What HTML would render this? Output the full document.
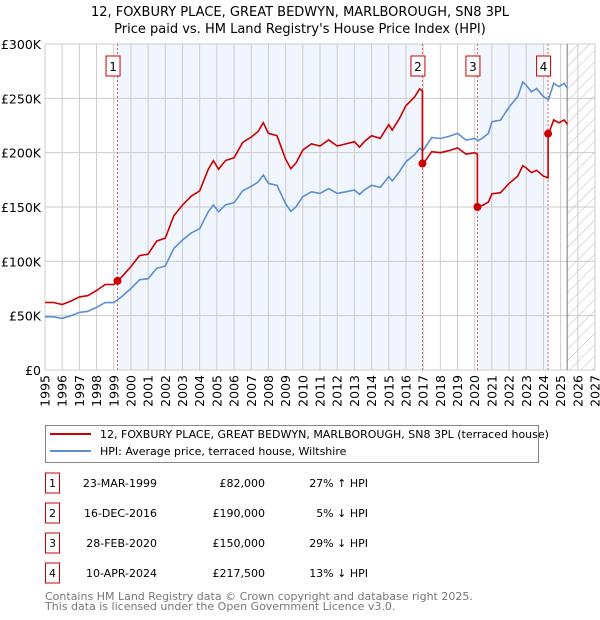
<!DOCTYPE html>
<html><head><meta charset="utf-8"><style>
body{margin:0;background:#fff;font-family:"Liberation Sans","DejaVu Sans",sans-serif;}
#wrap{position:relative;width:600px;height:620px;overflow:hidden}
svg text{font-family:"DejaVu Sans","Liberation Sans",sans-serif}
</style></head><body><div id="wrap">
<svg id="chart" width="600" height="620"></svg>
</div>
<script>
const hpiYears=[1995,1995.5,1996,1996.5,1997,1997.5,1998,1998.5,1999,1999.5,2000,2000.5,2001,2001.5,2002,2002.5,2003,2003.5,2004,2004.5,2004.8,2005.1,2005.5,2006,2006.5,2007,2007.4,2007.7,2008,2008.5,2009,2009.3,2009.6,2010,2010.5,2011,2011.5,2012,2012.5,2013,2013.3,2013.6,2014,2014.5,2015,2015.2,2015.6,2016,2016.5,2016.8,2017,2017.5,2018,2018.5,2019,2019.5,2020,2020.2,2020.5,2020.8,2021,2021.5,2022,2022.5,2022.8,2023,2023.3,2023.6,2024,2024.3,2024.6,2024.9,2025.2,2025.4];
const hpiValues=[49,49,47.5,50,53,54,57.7,62,62,68,75,83,84,93.5,95.7,112,119.6,126,130,145.7,151.8,145.7,152,154,165,169,173,179.4,171.7,170,153,146,150,159.5,164,162.5,167,162.5,164,165.6,161.6,166,170,168,178,174,182,191.7,198,204,202,214,213,215,217.7,211.6,213,211,214,217.7,228.5,230,242,251.5,265,262,256,259,251.5,249,263.8,260.7,263.8,259];
const saleLabels=["1","2","3","4"];
const saleYears=[1999.22,2016.96,2020.16,2024.27];
const salePrices=[82,190,150,217.5];
const yTicks=[0,50,100,150,200,250,300];
const yTickLabels=["£0","£50K","£100K","£150K","£200K","£250K","£300K"];
const xTicks=[1995,1996,1997,1998,1999,2000,2001,2002,2003,2004,2005,2006,2007,2008,2009,2010,2011,2012,2013,2014,2015,2016,2017,2018,2019,2020,2021,2022,2023,2024,2025,2026,2027];
const dataEndYear=2025.38;

const L=45,R=595,T=44,B=370;
const X=y=>L+(y-1995)/(2027-1995)*(R-L);
const Y=v=>B-v/300*(B-T);
const svg=document.getElementById('chart');
const NS='http://www.w3.org/2000/svg';
function mk(tag,attrs,parent){const e=document.createElementNS(NS,tag);for(const k in attrs)e.setAttribute(k,attrs[k]);(parent||svg).appendChild(e);return e;}

// title
let t=mk('text',{x:300,y:16,'text-anchor':'middle','font-size':13,fill:'#000'});t.textContent='12, FOXBURY PLACE, GREAT BEDWYN, MARLBOROUGH, SN8 3PL';


t=mk('text',{x:300,y:33,'text-anchor':'middle','font-size':13,fill:'#000'});t.textContent="Price paid vs. HM Land Registry's House Price Index (HPI)";



// shading bands
const bands=[[saleYears[0],saleYears[1]],[saleYears[2],saleYears[3]]];
bands.forEach((b,i)=>{const r=mk('rect',{x:X(b[0]),y:T,width:X(b[1])-X(b[0]),height:B-T,fill:'#eef3fc',opacity:0.8});

});

// hatch
const defs=mk('defs',{});
const pat=mk('pattern',{id:'hatch',width:8,height:8,patternUnits:'userSpaceOnUse',patternTransform:'rotate(45)'},defs);
mk('line',{x1:0,y1:0,x2:0,y2:8,stroke:'#bbb','stroke-width':1},pat);
const hr=mk('rect',{x:X(dataEndYear),y:T,width:R-X(dataEndYear),height:B-T,fill:'url(#hatch)'});



// grid
xTicks.forEach(yr=>{const l=mk('line',{x1:X(yr),x2:X(yr),y1:T,y2:B,stroke:'#ccc','stroke-width':1});


const tx=mk('text',{x:0,y:0,'font-size':12.5,fill:'#000','text-anchor':'end',transform:`translate(${X(yr)+4.5},${B+5}) rotate(-90)`});tx.textContent=yr;

});
yTicks.forEach((v,i)=>{const l=mk('line',{x1:L,x2:R,y1:Y(v),y2:Y(v),stroke:'#ccc','stroke-width':1});


const tx=mk('text',{x:41,y:Y(v)+5,'font-size':12.5,fill:'#000','text-anchor':'end'});tx.textContent=yTickLabels[i];

});
const ax=mk('rect',{x:L,y:T,width:R-L,height:B-T,fill:'none',stroke:'#ccc'});


const el=mk('line',{x1:X(dataEndYear),x2:X(dataEndYear),y1:T,y2:B,stroke:'#777','stroke-width':1});



// sale lines + boxes
saleYears.forEach((sy,i)=>{const l=mk('line',{x1:X(sy),x2:X(sy),y1:T,y2:B,stroke:'#e06060','stroke-width':1,'stroke-dasharray':'2,2'});


const bx=mk('rect',{x:X(sy)-11.5,y:56,width:14,height:20,fill:'#fff',stroke:'#c00','stroke-width':1});


const tx=mk('text',{x:X(sy)-4.5,y:71,'font-size':12,'text-anchor':'middle',fill:'#000'});tx.textContent=saleLabels[i];

});

// HPI interpolation
function hpiAt(y){for(let i=0;i<hpiYears.length-1;i++){if(y<=hpiYears[i+1]){const f=(y-hpiYears[i])/(hpiYears[i+1]-hpiYears[i]);return hpiValues[i]+f*(hpiValues[i+1]-hpiValues[i]);}}return hpiValues[hpiValues.length-1];}
const hp=mk('path',{d:hpiYears.map((y,i)=>(i?'L':'M')+X(y).toFixed(1)+','+Y(hpiValues[i]).toFixed(1)).join(''),fill:'none',stroke:'#5b8fd0','stroke-width':1.6});



// property line: indexed from each sale
const ratios=saleYears.map((sy,i)=>salePrices[i]/hpiAt(sy));
let d='';
hpiYears.forEach((y,i)=>{
  let k=0;for(let j=0;j<saleYears.length;j++)if(y>=saleYears[j])k=j;
  // insert sale jumps
  for(let j=1;j<saleYears.length;j++){if(hpiYears[i-1]!==undefined&&hpiYears[i-1]<saleYears[j]&&y>=saleYears[j]){d+='L'+X(saleYears[j]).toFixed(1)+','+Y(hpiAt(saleYears[j])*ratios[j-1]).toFixed(1);d+='L'+X(saleYears[j]).toFixed(1)+','+Y(salePrices[j]).toFixed(1);}}
  d+=(d?'L':'M')+X(y).toFixed(1)+','+Y(hpiValues[i]*ratios[k]).toFixed(1);
});
const pp=mk('path',{d:d,fill:'none',stroke:'#cc0000','stroke-width':1.6});


saleYears.forEach((sy,i)=>{const c=mk('circle',{cx:X(sy),cy:Y(salePrices[i]),r:4,fill:'#cc0000'});

});

// legend
const lg=mk('rect',{x:45.5,y:425.5,width:493,height:37,fill:'#fff',stroke:'#888'});


mk('line',{x1:50,x2:91,y1:434,y2:434,stroke:'#cc0000','stroke-width':2});
mk('line',{x1:50,x2:91,y1:451,y2:451,stroke:'#5b8fd0','stroke-width':2});
t=mk('text',{x:100,y:438,'font-size':11,fill:'#000'});t.textContent='12, FOXBURY PLACE, GREAT BEDWYN, MARLBOROUGH, SN8 3PL (terraced house)';


t=mk('text',{x:100,y:455,'font-size':11,fill:'#000'});t.textContent='HPI: Average price, terraced house, Wiltshire';



// table
const tDates=["23-MAR-1999","16-DEC-2016","28-FEB-2020","10-APR-2024"];
const tPrices=["£82,000","£190,000","£150,000","£217,500"];
const tHpi=["27% ↑ HPI","5% ↓ HPI","29% ↓ HPI","13% ↓ HPI"];
tDates.forEach((dt,i)=>{const cy=483+i*30;
const b=mk('rect',{x:45.5,y:cy-10,width:14,height:20,fill:'#fff',stroke:'#c00'});


let a=mk('text',{x:52.5,y:cy+4,'font-size':11,'text-anchor':'middle'});a.textContent=saleLabels[i];


a=mk('text',{x:157,y:cy+4,'font-size':11,'text-anchor':'end'});a.textContent=dt;


a=mk('text',{x:265,y:cy+4,'font-size':11,'text-anchor':'end'});a.textContent=tPrices[i];


a=mk('text',{x:368,y:cy+4,'font-size':11,'text-anchor':'end'});a.textContent=tHpi[i];

});
t=mk('text',{x:45,y:600,'font-size':11,fill:'#777'});t.textContent='Contains HM Land Registry data © Crown copyright and database right 2025.';


t=mk('text',{x:45,y:610,'font-size':11,fill:'#777'});t.textContent='This data is licensed under the Open Government Licence v3.0.';


</script></body></html>
